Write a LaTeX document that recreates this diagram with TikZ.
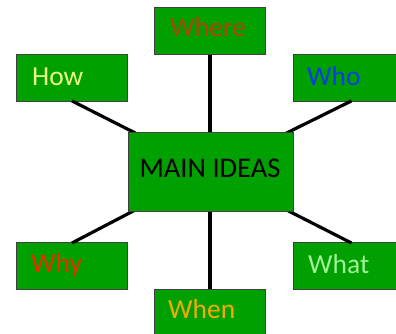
\documentclass[tikz,border=0pt]{standalone}
\usepackage{fontspec}
\setmainfont{Carlito}
\usetikzlibrary{calc}
\definecolor{boxgreen}{RGB}{0,160,0}
\definecolor{wherec}{RGB}{170,70,10}
\definecolor{howc}{RGB}{235,250,130}
\definecolor{whoc}{RGB}{10,60,230}
\definecolor{whyc}{RGB}{235,45,0}
\definecolor{whatc}{RGB}{160,240,150}
\definecolor{whenc}{RGB}{245,170,0}
\tikzset{
  box/.style={draw=black!75, line width=0.9pt, fill=boxgreen, inner sep=0pt, anchor=north west},
  lbl/.style={inner sep=0pt, anchor=base west, font=\fontsize{27.5}{32}\selectfont},
  link/.style={line width=3.2pt, black}
}
\begin{document}
\begin{tikzpicture}[x=1pt,y=-1pt]
\useasboundingbox (0,0) rectangle (396,334);
\coordinate (mainc) at (210,171);
\node[box, minimum width=111pt, minimum height=47pt] (where) at (154,7) {};
\node[box, minimum width=111pt, minimum height=47pt] (how) at (16,54) {};
\node[box, minimum width=110pt, minimum height=47pt] (who) at (293,54) {};
\node[box, minimum width=111pt, minimum height=47pt] (why) at (16,242) {};
\node[box, minimum width=110pt, minimum height=47pt] (what) at (293,242) {};
\node[box, minimum width=111pt, minimum height=50pt] (when) at (154,289) {};
% connectors (drawn under the main box)
\draw[link] (where.south) -- (where.south |- mainc);
\draw[link] ($(how.south)+(0,-1)$) -- (mainc);
\draw[link] ($(who.south)+(3,-1)$) -- (mainc);
\draw[link] ($(why.north)+(0,1)$) -- (mainc);
\draw[link] ($(what.north)+(3,1)$) -- (mainc);
\draw[link] (when.north) -- (when.north |- mainc);
\node[box, minimum width=165pt, minimum height=79pt] (main) at (128,132) {};
\node[inner sep=0pt, font=\fontsize{28.5}{32}\selectfont, anchor=base] (maint) at (210,177.5) {MAIN IDEAS};
% labels
\node[lbl, text=wherec] (wheret) at (170,37) {Where};
\node[lbl, text=howc] (howt) at (32,86) {How};
\node[lbl, text=whoc] (whot) at (307,86) {Who};
\node[lbl, text=whyc] (whyt) at (31,272) {Why};
\node[lbl, text=whatc] (whatt) at (308,273) {What};
\node[lbl, text=whenc] (whent) at (168,318) {When};
\end{tikzpicture}
\end{document}
